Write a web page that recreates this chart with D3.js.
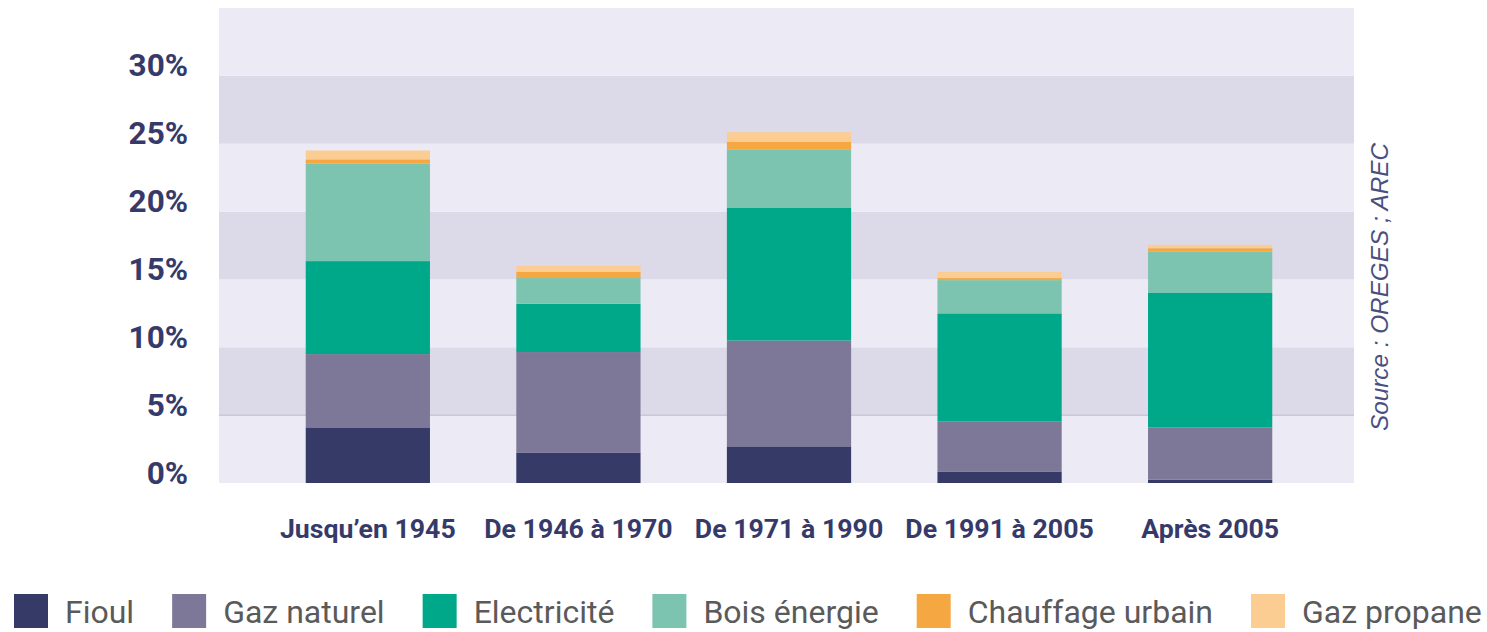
<!DOCTYPE html>
<html>
<head>
<meta charset="utf-8">
<script src="https://d3js.org/d3.v7.min.js"></script>
<style>
  body { margin: 0; background: #fff; }
  svg { display: block; font-family: Roboto, "Noto Sans", sans-serif; }
</style>
</head>
<body>
<svg id="chart" width="1487" height="632"></svg>
<script>
// periods on the x axis
var periods = ["Jusqu\u2019en 1945", "De 1946 \u00e0 1970", "De 1971 \u00e0 1990", "De 1991 \u00e0 2005", "Apr\u00e8s 2005"];
// energy sources (stack order, bottom to top)
var sources = ["Fioul", "Gaz naturel", "Electricit\u00e9", "Bois \u00e9nergie", "Chauffage urbain", "Gaz propane"];
var colors = ["#363a66", "#7d7898", "#00a88a", "#7cc4b0", "#f5a742", "#fbcd93"];

// values in % per period
var fioul      = [4.1, 2.25, 2.7, 0.85, 0.25];
var gazNaturel = [5.4, 7.4, 7.8, 3.7, 3.85];
var elec       = [6.85, 3.55, 9.8, 7.95, 9.9];
var bois       = [7.2, 1.9, 4.25, 2.45, 3.05];
var chauffage  = [0.3, 0.45, 0.6, 0.15, 0.25];
var propane    = [0.65, 0.45, 0.7, 0.45, 0.25];

var yTicks = [0, 5, 10, 15, 20, 25, 30];

var series = [fioul, gazNaturel, elec, bois, chauffage, propane];
var rows = periods.map(function(p, i) {
  var r = { period: p };
  sources.forEach(function(s, k) { r[s] = series[k][i]; });
  return r;
});

var svg = d3.select("#chart");
var plotLeft = 219, plotRight = 1354, plotTop = 8, plotBottom = 483;

// bars sit slightly right of the band centre in the original
var x = d3.scaleBand().domain(periods).range([plotLeft + 2.5, plotRight + 2.5]).paddingInner(0.41).paddingOuter(0.4);
var y = d3.scaleLinear().domain([0, 35]).range([plotBottom, plotTop]);

// background bands
var bands = d3.range(0, 35, 5);
svg.append("g").selectAll("rect").data(bands).enter().append("rect")
  .attr("x", plotLeft)
  .attr("width", plotRight - plotLeft)
  .attr("y", function(d) { return y(d + 5); })
  .attr("height", function(d) { return y(d) - y(d + 5); })
  .attr("fill", function(d, i) { return i % 2 ? "#dcdae8" : "#ecebf5"; });

svg.append("line")
  .attr("x1", plotLeft).attr("x2", plotRight)
  .attr("y1", y(5)).attr("y2", y(5))
  .attr("stroke", "#c9c7d8").attr("stroke-width", 1.5);

// stacked bars
var stack = d3.stack().keys(sources)(rows);
svg.append("g").selectAll("g").data(stack).enter().append("g")
  .attr("fill", function(d, i) { return colors[i]; })
  .selectAll("rect").data(function(d) { return d; }).enter().append("rect")
    .attr("x", function(d) { return x(d.data.period); })
    .attr("width", x.bandwidth())
    .attr("y", function(d) { return y(d[1]); })
    .attr("height", function(d) { return y(d[0]) - y(d[1]); });

// y axis
var yAxis = svg.append("g")
  .attr("transform", "translate(" + plotLeft + ",0)")
  .call(d3.axisLeft(y).tickValues(yTicks).tickSize(0).tickPadding(31)
    .tickFormat(function(d) { return d + "%"; }));
yAxis.select(".domain").remove();
yAxis.selectAll("text")
  .attr("dy", 0)
  .attr("fill", "#363a6a")
  .style("font-size", "31.5px")
  .style("font-weight", "bold")
  .style("font-family", "Roboto, sans-serif");

// x axis
var xAxis = svg.append("g")
  .attr("transform", "translate(0," + plotBottom + ")")
  .call(d3.axisBottom(x).tickSize(0));
xAxis.select(".domain").remove();
xAxis.selectAll("text")
  .attr("y", 55)
  .attr("dy", 0)
  .attr("fill", "#363a6a")
  .style("font-size", "26.7px")
  .style("font-weight", "bold")
  .style("font-family", "Roboto, sans-serif");

// source
svg.append("text")
  .attr("transform", "translate(1388,287) rotate(-90)")
  .attr("text-anchor", "middle")
  .attr("fill", "#4a4f7e")
  .style("font-family", "'Liberation Sans', Arial, sans-serif")
  .style("font-size", "24.3px")
  .style("font-style", "italic")
  .text("Source : OREGES ; AREC");

// legend
var legend = svg.append("g").attr("transform", "translate(14,594)");
var lx = 0;
sources.forEach(function(s, i) {
  var g = legend.append("g").attr("transform", "translate(" + lx + ",0)");
  g.append("rect").attr("width", 34).attr("height", 34).attr("fill", colors[i]);
  var t = g.append("text")
    .attr("x", 51).attr("y", 29)
    .attr("fill", "#5a5a5a")
    .style("font-size", "32px")
    .text(s);
  lx += 51 + t.node().getComputedTextLength() + 38;
});
</script>
</body>
</html>
